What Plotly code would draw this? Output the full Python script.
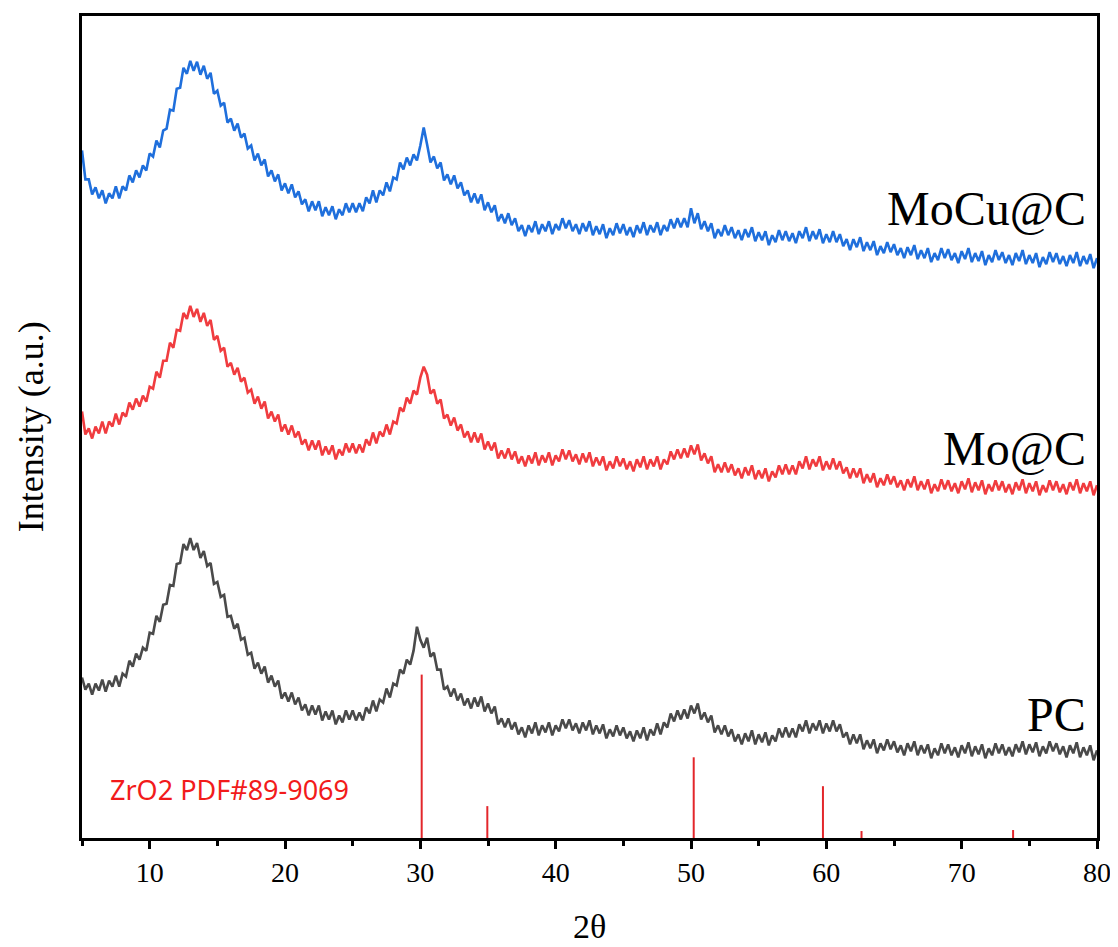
import plotly.graph_objects as go

# 2-theta sampling grid (degrees), 0.25 deg step
two_theta = [5.0 + 0.25 * i for i in range(301)]

# Intensities (a.u., stacked offsets as drawn)
mocu_c = [690, 661, 661, 646, 653, 642, 650, 637, 647, 642, 654, 642, 654, 650, 665, 658,
          670, 663, 675, 670, 687, 684, 700, 693, 710, 712, 731, 730, 752, 753, 773, 767,
          780, 770, 779, 766, 775, 762, 768, 747, 750, 735, 738, 718, 722, 710, 717, 703,
          707, 692, 695, 680, 687, 675, 681, 664, 670, 659, 666, 650, 657, 647, 656, 643,
          649, 636, 641, 629, 639, 630, 639, 624, 633, 625, 634, 621, 631, 625, 637, 628,
          637, 628, 637, 629, 643, 637, 650, 638, 650, 645, 658, 649, 663, 661, 678, 671,
          683, 675, 686, 680, 695, 713, 696, 678, 684, 672, 678, 660, 666, 656, 665, 652,
          658, 645, 650, 638, 647, 637, 646, 630, 638, 628, 635, 619, 626, 617, 627, 615,
          622, 609, 615, 604, 615, 608, 619, 606, 616, 609, 619, 606, 616, 610, 622, 612,
          620, 609, 616, 606, 617, 609, 619, 605, 614, 606, 616, 602, 612, 605, 617, 607,
          616, 605, 613, 603, 615, 607, 618, 605, 615, 608, 618, 605, 615, 609, 621, 612,
          622, 613, 622, 613, 632, 617, 627, 611, 619, 609, 617, 602, 611, 604, 615, 605,
          613, 602, 610, 600, 611, 603, 613, 599, 608, 600, 609, 595, 605, 598, 610, 600,
          609, 599, 607, 597, 609, 602, 613, 599, 609, 601, 611, 597, 606, 598, 609, 598,
          606, 594, 601, 590, 601, 593, 603, 589, 598, 590, 599, 585, 594, 587, 598, 588,
          596, 585, 592, 582, 593, 585, 595, 581, 590, 582, 592, 578, 587, 580, 592, 582,
          591, 580, 587, 577, 589, 581, 592, 578, 587, 579, 589, 575, 585, 578, 590, 580,
          588, 577, 585, 575, 587, 579, 590, 576, 585, 577, 587, 573, 583, 576, 588, 578,
          587, 576, 584, 574, 585, 577, 588, 574, 584, 576, 586, 572, 582]

mo_c = [428, 405, 411, 401, 413, 406, 418, 406, 418, 413, 426, 415, 427, 423, 437, 430,
        441, 433, 444, 438, 453, 451, 468, 462, 479, 479, 497, 492, 510, 509, 527, 521,
        534, 523, 531, 518, 527, 514, 520, 500, 504, 489, 492, 473, 477, 465, 472, 458,
        462, 447, 450, 436, 443, 431, 438, 421, 428, 418, 425, 408, 415, 405, 414, 402,
        408, 395, 400, 389, 399, 390, 399, 384, 393, 385, 394, 380, 390, 384, 396, 387,
        396, 386, 395, 387, 400, 394, 407, 396, 408, 403, 415, 405, 418, 416, 432, 428,
        442, 436, 449, 445, 462, 473, 465, 446, 450, 436, 440, 421, 425, 414, 422, 409,
        415, 402, 408, 397, 407, 397, 406, 390, 398, 389, 397, 381, 389, 381, 391, 380,
        388, 376, 383, 373, 384, 376, 387, 374, 384, 377, 387, 374, 384, 378, 390, 380,
        389, 378, 385, 375, 386, 377, 387, 373, 382, 374, 383, 369, 378, 371, 383, 373,
        381, 370, 378, 368, 380, 372, 383, 370, 380, 373, 383, 370, 380, 375, 388, 380,
        390, 381, 391, 382, 394, 385, 395, 379, 386, 376, 383, 367, 375, 367, 377, 367,
        375, 364, 371, 361, 372, 364, 374, 360, 369, 361, 371, 358, 368, 362, 374, 365,
        375, 365, 374, 365, 378, 371, 383, 370, 380, 373, 383, 369, 378, 370, 381, 370,
        378, 366, 372, 361, 371, 362, 371, 356, 365, 357, 366, 352, 361, 354, 365, 355,
        363, 352, 359, 349, 360, 352, 363, 349, 358, 350, 360, 346, 355, 348, 360, 350,
        359, 348, 356, 346, 358, 350, 361, 347, 357, 349, 359, 345, 355, 348, 359, 349,
        358, 347, 355, 345, 357, 349, 360, 346, 356, 348, 358, 344, 354, 347, 359, 349,
        358, 347, 355, 345, 357, 349, 360, 346, 356, 348, 358, 344, 354]

pc = [161, 149, 155, 144, 155, 148, 159, 147, 158, 152, 163, 152, 165, 162, 178, 172,
      185, 179, 191, 188, 206, 205, 223, 217, 234, 235, 254, 253, 275, 276, 295, 289,
      301, 289, 296, 281, 288, 273, 276, 255, 257, 242, 244, 222, 223, 210, 215, 199,
      201, 184, 186, 170, 176, 165, 172, 156, 163, 152, 158, 140, 146, 137, 146, 134,
      141, 128, 134, 123, 133, 124, 133, 118, 127, 119, 128, 114, 123, 116, 128, 119,
      128, 118, 126, 118, 131, 125, 138, 127, 139, 136, 150, 141, 155, 153, 169, 165,
      179, 174, 188, 212, 199, 191, 201, 182, 186, 169, 169, 149, 152, 142, 150, 138,
      145, 133, 140, 130, 141, 132, 142, 127, 135, 125, 132, 114, 120, 111, 120, 109,
      116, 104, 111, 101, 113, 105, 116, 103, 113, 106, 116, 103, 113, 107, 119, 110,
      119, 108, 115, 105, 116, 108, 118, 104, 113, 105, 114, 100, 109, 102, 113, 103,
      111, 100, 107, 97, 108, 100, 111, 98, 109, 103, 115, 104, 116, 111, 125, 117,
      128, 119, 129, 120, 133, 125, 135, 119, 126, 116, 123, 106, 113, 104, 113, 102,
      109, 97, 104, 94, 105, 97, 108, 94, 104, 96, 106, 93, 103, 97, 110, 101,
      111, 101, 110, 101, 114, 107, 118, 105, 115, 108, 118, 105, 115, 107, 118, 107,
      114, 101, 106, 94, 104, 95, 104, 89, 98, 90, 99, 85, 95, 88, 99, 89,
      97, 86, 93, 83, 95, 87, 97, 83, 93, 85, 94, 80, 90, 83, 95, 85,
      94, 83, 91, 81, 93, 85, 96, 82, 92, 84, 94, 80, 90, 83, 95, 85,
      94, 83, 91, 82, 94, 86, 97, 84, 94, 86, 96, 82, 92, 85, 97, 87,
      95, 84, 92, 81, 93, 85, 96, 81, 91, 83, 93, 78, 88]

# ZrO2 PDF#89-9069 reference lines
ref_pos = [30.1, 34.95, 50.2, 59.75, 62.6, 73.8]
ref_int = [164, 32, 81, 52, 7, 8]

series_names = ["PC", "Mo@C", "MoCu@C"]
series_colors = ["#4a4a4a", "#f03c3f", "#1f6fdc"]
label_y = [124, 391, 632]

fig = go.Figure()
for name, vals, col in zip(series_names, [pc, mo_c, mocu_c], series_colors):
    fig.add_trace(go.Scatter(x=two_theta, y=vals, mode="lines", name=name,
                             line=dict(color=col, width=2.6)))

sx, sy = [], []
for p, h in zip(ref_pos, ref_int):
    sx += [p, p, None]
    sy += [0, h, None]
fig.add_trace(go.Scatter(x=sx, y=sy, mode="lines", name="ZrO2",
                         line=dict(color="#e3262b", width=2)))

serif = "Liberation Serif, Times New Roman, serif"
for name, ly in zip(series_names, label_y):
    fig.add_annotation(x=0.991, xref="paper", y=ly, yref="y", text=name,
                       showarrow=False, xanchor="right", yanchor="middle",
                       font=dict(family=serif, size=48, color="black"))

fig.add_annotation(x=0.0253, xref="paper", y=49, yref="y",
                   text="ZrO2 PDF#89-9069", showarrow=False,
                   xanchor="left", yanchor="middle",
                   font=dict(family="Noto Sans, Open Sans, sans-serif", size=27, color="#f21b1b"))

fig.add_annotation(x=0.5, xref="paper", y=-0.108, yref="paper", text="2θ",
                   showarrow=False, xanchor="center", yanchor="middle",
                   font=dict(family=serif, size=34, color="black"))
fig.add_annotation(x=-0.05, xref="paper", y=0.5, yref="paper",
                   text="Intensity (a.u.)", showarrow=False, textangle=-90,
                   xanchor="center", yanchor="middle",
                   font=dict(family=serif, size=36, color="black"))

fig.update_layout(
    width=1110, height=939,
    margin=dict(l=74, r=21, t=5, b=109),
    paper_bgcolor="white", plot_bgcolor="white",
    showlegend=False,
)
fig.update_xaxes(range=[5, 80], tick0=0, dtick=10, ticks="outside",
                 ticklen=8, tickwidth=2.5, tickcolor="black",
                 showline=True, linecolor="black", linewidth=2.5, mirror=True,
                 showgrid=False, zeroline=False,
                 tickfont=dict(family=serif, size=28, color="black"),
                 minor=dict(dtick=5, tick0=0, ticks="outside", ticklen=5,
                            tickwidth=2.5, tickcolor="black", showgrid=False))
fig.update_yaxes(range=[0, 825], showticklabels=False, ticks="",
                 showline=True, linecolor="black", linewidth=2.5, mirror=True,
                 showgrid=False, zeroline=False)

fig.write_html("out.html")
